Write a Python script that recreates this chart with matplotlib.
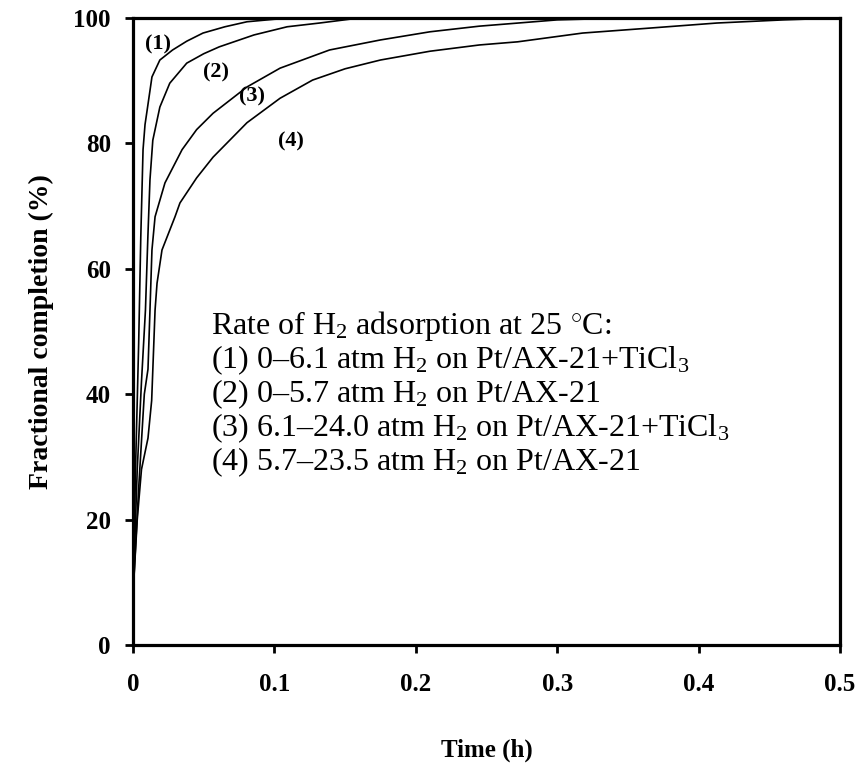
import matplotlib
matplotlib.use("Agg")
import matplotlib.pyplot as plt

# ---- data (time in h, fractional completion in %) ----
t1 = [0, 0.002, 0.004, 0.0055, 0.0071, 0.0085, 0.01, 0.0134, 0.019, 0.028, 0.038, 0.0495, 0.065, 0.0806, 0.1, 0.12, 0.5]
p1 = [8, 30, 48, 65, 79, 83, 85.3, 90.6, 93.3, 94.9, 96.3, 97.6, 98.6, 99.4, 99.8, 100, 100]

t2 = [0, 0.003, 0.006, 0.0088, 0.0105, 0.012, 0.014, 0.019, 0.026, 0.038, 0.05, 0.061, 0.0856, 0.109, 0.132, 0.16, 0.5]
p2 = [8, 28, 42, 53.4, 65, 74.2, 80.5, 85.8, 89.6, 92.8, 94.3, 95.4, 97.3, 98.6, 99.2, 100, 100]

t3 = [0, 0.004, 0.008, 0.0106, 0.012, 0.0134, 0.0156, 0.0226, 0.0347, 0.045, 0.0566, 0.0806, 0.104, 0.139, 0.175, 0.21, 0.245, 0.3, 0.35, 0.5]
p3 = [8, 25, 40, 44, 53.4, 63, 68.3, 73.7, 79, 82.2, 84.8, 89, 92, 94.9, 96.5, 97.8, 98.7, 99.7, 100, 100]

t4 = [0, 0.003, 0.006, 0.0106, 0.0132, 0.0156, 0.017, 0.0205, 0.0297, 0.0332, 0.045, 0.0566, 0.0806, 0.104, 0.127, 0.15, 0.175, 0.21, 0.245, 0.272, 0.318, 0.366, 0.413, 0.46, 0.5]
p4 = [8, 20, 28, 33, 39, 53.4, 57.7, 63, 68.3, 70.5, 74.5, 77.8, 83.3, 87.2, 90.1, 91.9, 93.3, 94.7, 95.7, 96.2, 97.6, 98.4, 99.2, 99.7, 100]

curve_labels = ["(1)", "(2)", "(3)", "(4)"]
label_pos_t = [0.0175, 0.0585, 0.084, 0.112]
label_pos_p = [95.8, 91.3, 87.5, 80.3]

xticks = [0, 0.1, 0.2, 0.3, 0.4, 0.5]
xtick_labels = ["0", "0.1", "0.2", "0.3", "0.4", "0.5"]
yticks = [0, 20, 40, 60, 80, 100]

annotation_lines = [
    r"Rate of H$_2$ adsorption at 25 $^{\circ}$C:",
    r"(1) 0–6.1 atm H$_2$ on Pt/AX-21+TiCl$_3$",
    r"(2) 0–5.7 atm H$_2$ on Pt/AX-21",
    r"(3) 6.1–24.0 atm H$_2$ on Pt/AX-21+TiCl$_3$",
    r"(4) 5.7–23.5 atm H$_2$ on Pt/AX-21",
]

plt.rcParams["font.family"] = ["Liberation Serif", "DejaVu Serif"]
plt.rcParams["mathtext.fontset"] = "custom"
plt.rcParams["mathtext.rm"] = "Liberation Serif"
plt.rcParams["mathtext.it"] = "Liberation Serif:italic"
plt.rcParams["mathtext.bf"] = "Liberation Serif:bold"

fig = plt.figure(figsize=(8.58, 7.69), dpi=100)
ax = fig.add_axes([133 / 858, 124 / 769, (840 - 133) / 858, (645 - 18) / 769])

for t, p in [(t1, p1), (t2, p2), (t3, p3), (t4, p4)]:
    ax.plot(t, p, color="black", lw=1.2, solid_capstyle="round", solid_joinstyle="round")

for lab, tx, py in zip(curve_labels, label_pos_t, label_pos_p):
    ax.text(tx, py, lab, fontsize=16, fontweight="bold", ha="center", va="center")

ax.set_xlim(0, 0.5)
ax.set_ylim(0, 100)
ax.set_xticks(xticks)
ax.set_xticklabels(xtick_labels)
ax.set_yticks(yticks)
for s in ax.spines.values():
    s.set_linewidth(2.3)
ax.tick_params(direction="out", length=6, width=2, labelsize=18, pad=14)
ax.tick_params(axis="y", pad=10)
for lbl in ax.get_xticklabels() + ax.get_yticklabels():
    lbl.set_fontweight("bold")

ax.set_xlabel("Time (h)", fontsize=18, fontweight="bold", labelpad=31)
ax.set_ylabel("Fractional completion (%)", fontsize=20, fontweight="bold", labelpad=14)

y0 = 0.508
dy = 34 / 627
for i, line in enumerate(annotation_lines):
    ax.text(0.111, y0 - i * dy, line, transform=ax.transAxes, fontsize=23,
            ha="left", va="center")

fig.savefig("out.png", dpi=100)
